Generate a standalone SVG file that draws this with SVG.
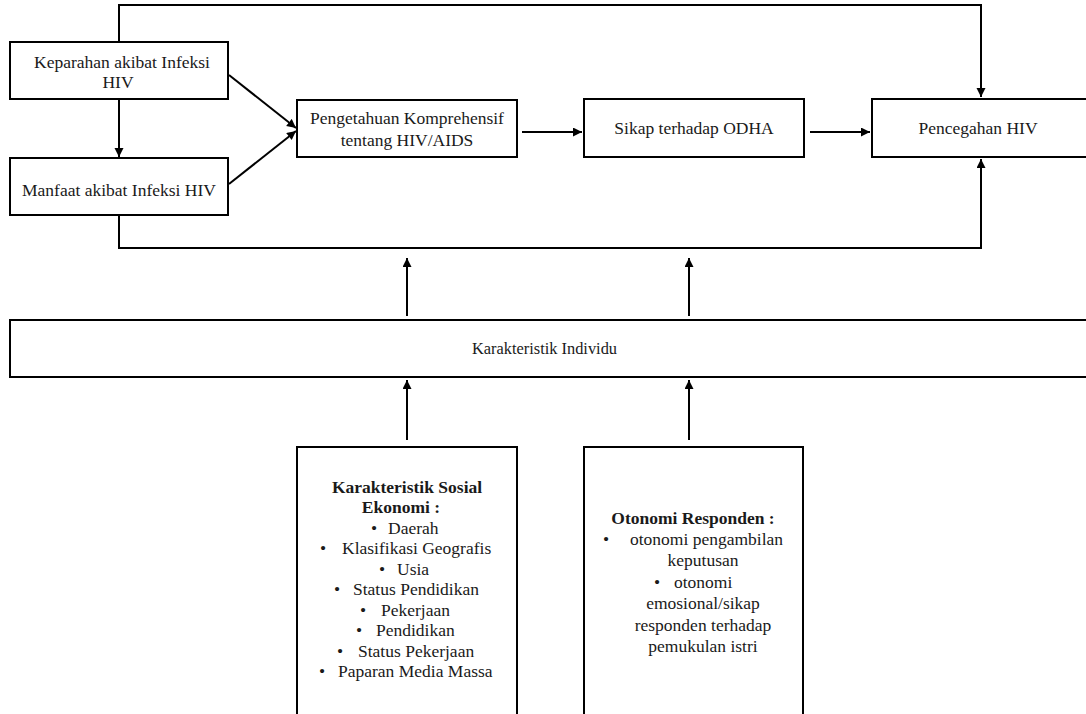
<svg xmlns="http://www.w3.org/2000/svg" width="1086" height="714" viewBox="0 0 1086 714">
<style>
.box{fill:#fff;stroke:#000;stroke-width:2}
.t{font-size:17.5px;fill:#1a1a1a}
.m{text-anchor:middle}
.b{font-weight:bold}
.c{fill:none;stroke:#000;stroke-width:2}
</style>
<defs>
<marker id="ah" markerUnits="userSpaceOnUse" markerWidth="10" markerHeight="10" refX="9" refY="4.5" orient="auto">
<path d="M0,0 L9,4.5 L0,9 z" fill="#000"/>
</marker>
</defs>
<rect width="1086" height="714" fill="#fff"/>
<g id="connectors">
<polyline class="c" points="119,42 119,5 981,5 981,97" marker-end="url(#ah)"/>
<polyline class="c" points="119,215 119,248 981,248 981,159" marker-end="url(#ah)"/>
<line class="c" x1="119" y1="99" x2="119" y2="157" marker-end="url(#ah)"/>
<line class="c" x1="229" y1="75" x2="296" y2="128" marker-end="url(#ah)"/>
<line class="c" x1="229" y1="184" x2="296" y2="131" marker-end="url(#ah)"/>
<line class="c" x1="522" y1="132" x2="582" y2="132" marker-end="url(#ah)"/>
<line class="c" x1="810" y1="132" x2="870" y2="132" marker-end="url(#ah)"/>
<line class="c" x1="407" y1="316" x2="407" y2="258" marker-end="url(#ah)"/>
<line class="c" x1="689" y1="316" x2="689" y2="258" marker-end="url(#ah)"/>
<line class="c" x1="407" y1="440" x2="407" y2="380" marker-end="url(#ah)"/>
<line class="c" x1="689" y1="440" x2="689" y2="380" marker-end="url(#ah)"/>
</g>
<g font-family="'Liberation Serif', 'Times New Roman', 'DejaVu Serif', serif">
<g id="keparahan">
<rect class="box" x="10" y="42" width="218" height="57"/>
<text class="t m" x="122" y="68">Keparahan akibat Infeksi</text>
<text class="t m" x="118" y="88">HIV</text>
</g>
<g id="manfaat">
<rect class="box" x="10" y="158" width="218" height="57"/>
<text class="t m" x="119" y="196">Manfaat akibat Infeksi HIV</text>
</g>
<g id="pengetahuan">
<rect class="box" x="297" y="100" width="220" height="57"/>
<text class="t m" x="407" y="124">Pengetahuan Komprehensif</text>
<text class="t m" x="407" y="146">tentang HIV/AIDS</text>
</g>
<g id="sikap">
<rect class="box" x="584" y="99" width="220" height="58"/>
<text class="t m" x="694" y="134">Sikap terhadap ODHA</text>
</g>
<g id="pencegahan">
<rect class="box" x="872" y="99" width="230" height="58"/>
<text class="t m" x="978" y="134">Pencegahan HIV</text>
</g>
<g id="karakteristik-individu">
<rect class="box" x="10" y="320" width="1100" height="57"/>
<text class="t" x="472" y="354" textLength="145" lengthAdjust="spacingAndGlyphs">Karakteristik  Individu</text>
</g>
<g id="sosial-ekonomi">
<rect class="box" x="297" y="447" width="220" height="280"/>
<text class="t m b" x="407" y="493">Karakteristik Sosial</text>
<text class="t m b" x="401" y="513">Ekonomi :</text>
<text class="t m" x="374" y="534">•</text><text class="t" x="388" y="534">Daerah</text>
<text class="t m" x="323" y="554">•</text><text class="t" x="342" y="554">Klasifikasi  Geografis</text>
<text class="t m" x="382" y="575">•</text><text class="t" x="397" y="575">Usia</text>
<text class="t m" x="337" y="595">•</text><text class="t" x="353" y="595">Status Pendidikan</text>
<text class="t m" x="363" y="616">•</text><text class="t" x="381" y="616">Pekerjaan</text>
<text class="t m" x="359" y="636">•</text><text class="t" x="376" y="636">Pendidikan</text>
<text class="t m" x="340" y="657">•</text><text class="t" x="358" y="657">Status Pekerjaan</text>
<text class="t m" x="322" y="677">•</text><text class="t" x="338" y="677">Paparan Media Massa</text>
</g>
<g id="otonomi">
<rect class="box" x="584" y="447" width="219" height="280"/>
<text class="t m b" x="693" y="524">Otonomi Responden :</text>
<text class="t m" x="606" y="545">•</text><text class="t" x="630" y="545">otonomi pengambilan</text>
<text class="t m" x="703" y="566">keputusan</text>
<text class="t m" x="657" y="588">•</text><text class="t" x="674" y="588">otonomi</text>
<text class="t m" x="703" y="609">emosional/sikap</text>
<text class="t m" x="703" y="631">responden terhadap</text>
<text class="t m" x="703" y="652">pemukulan istri</text>
</g>
</g>
</svg>
